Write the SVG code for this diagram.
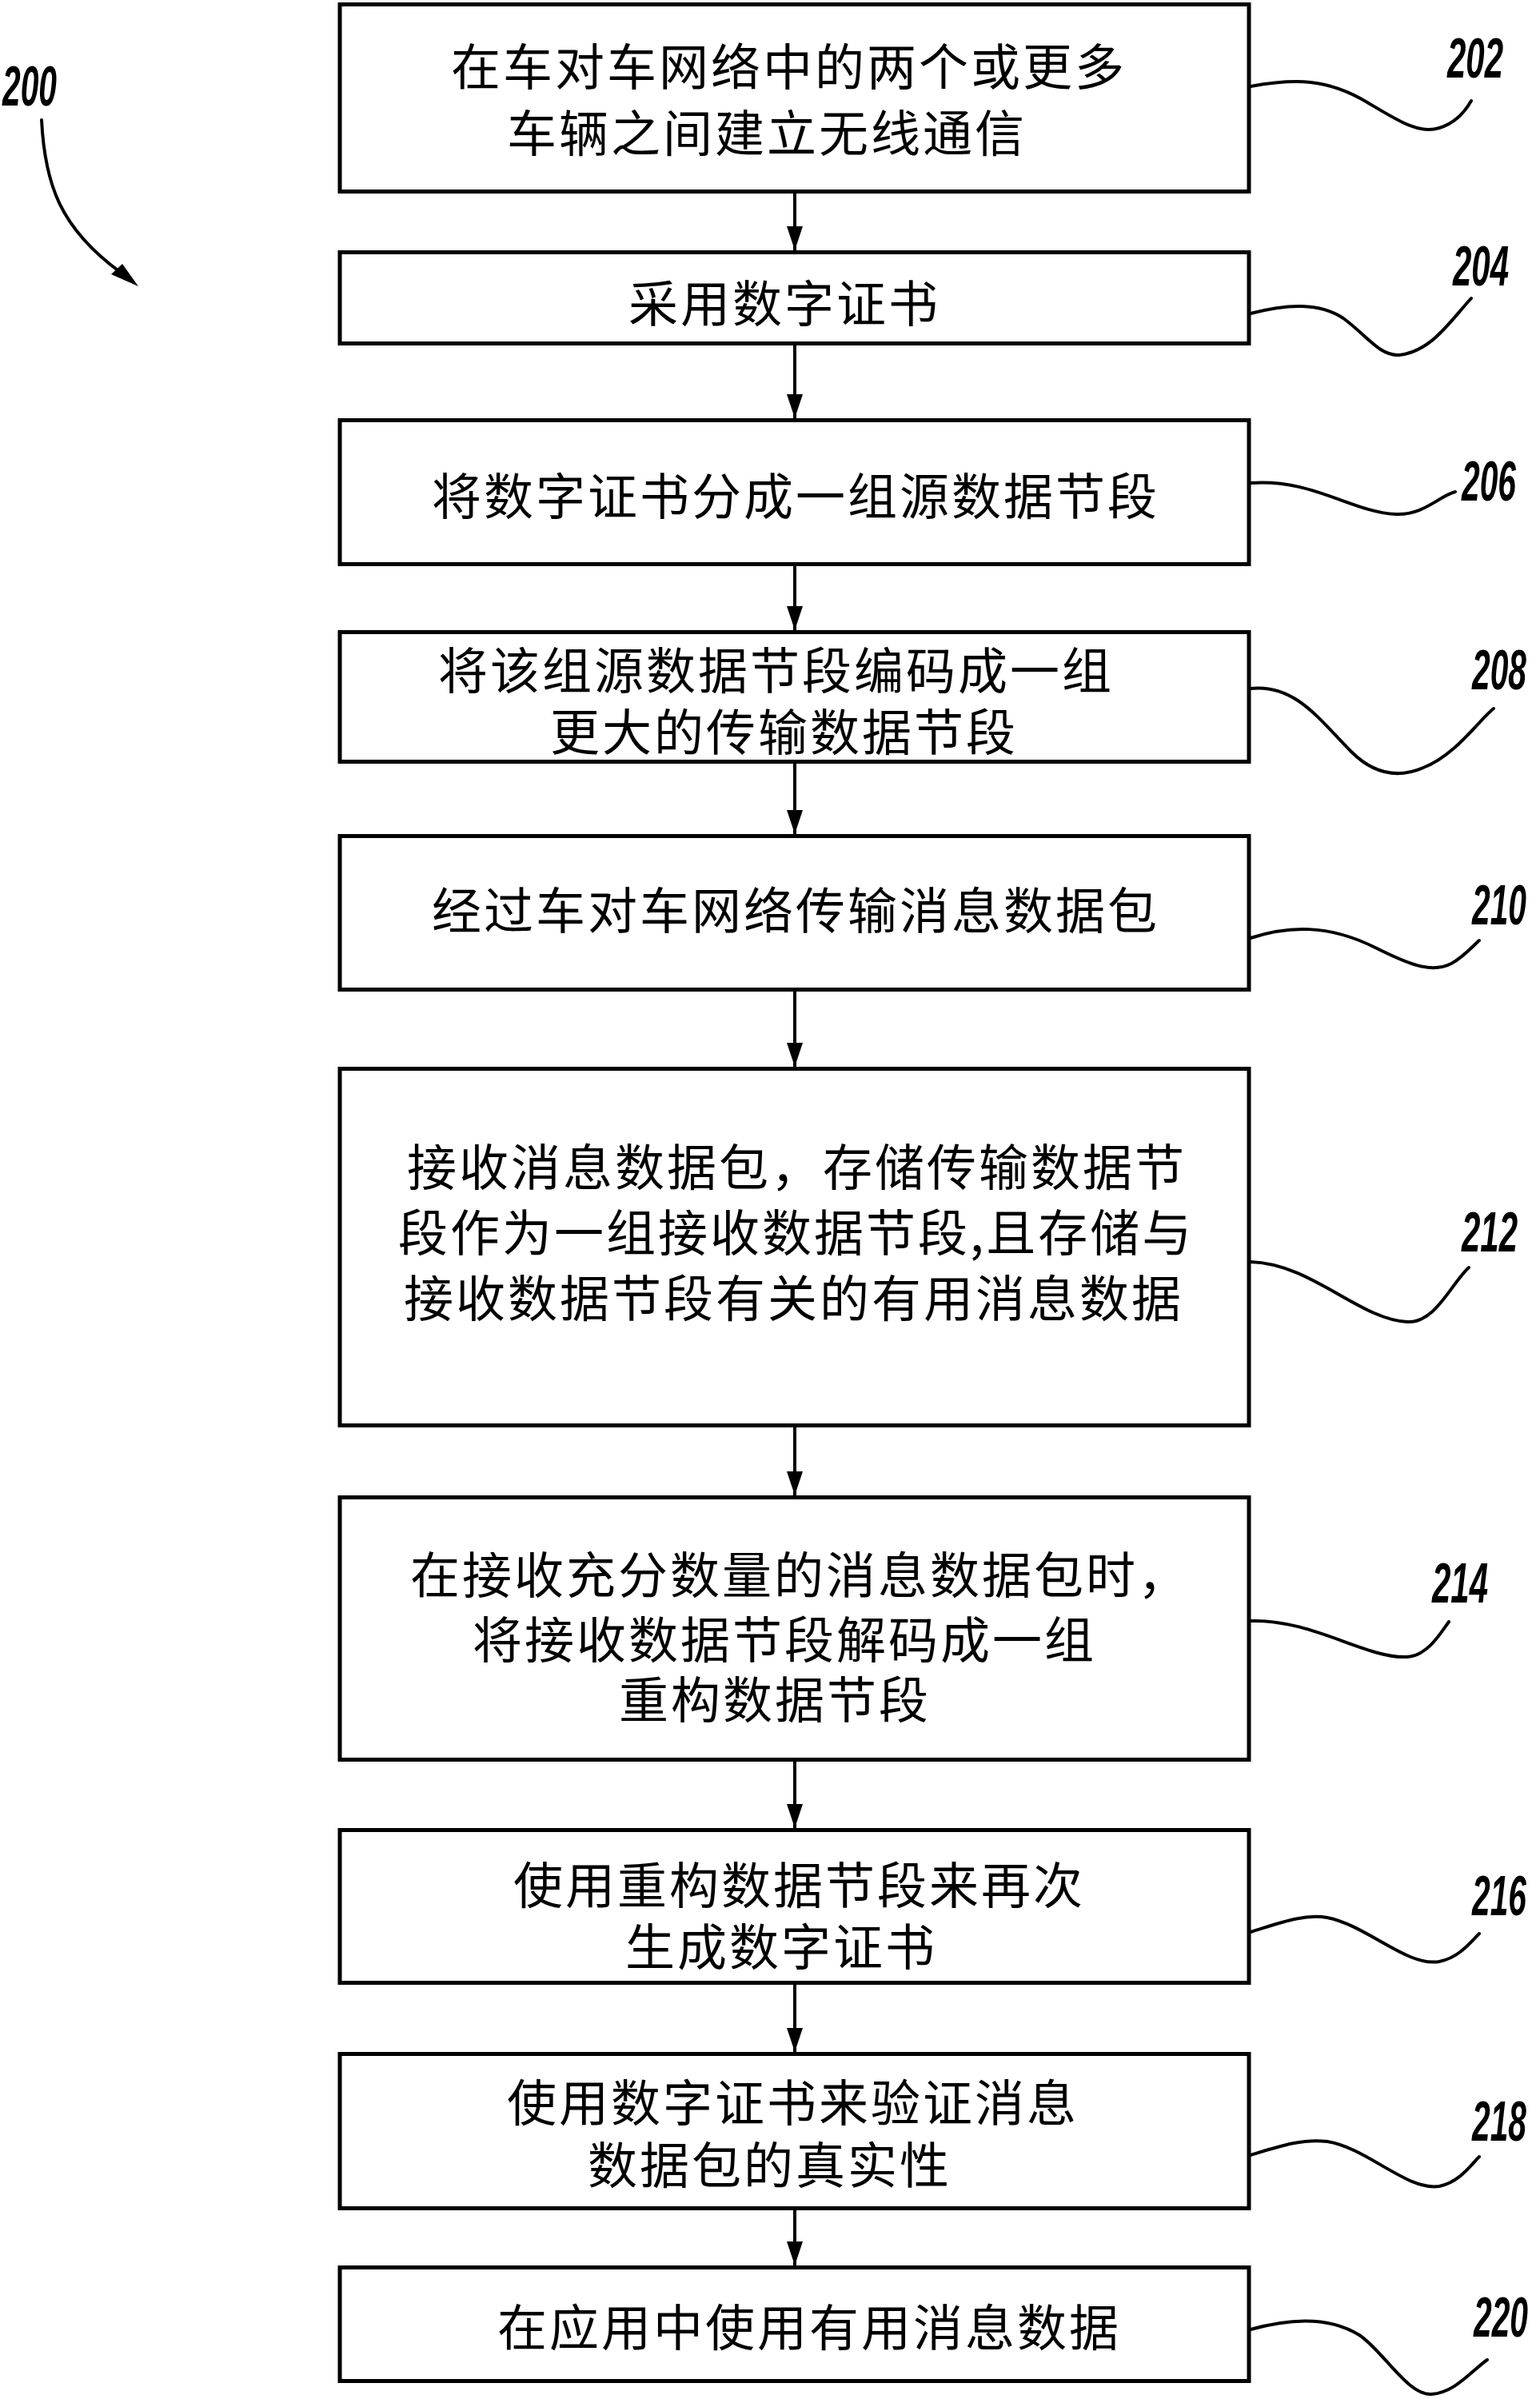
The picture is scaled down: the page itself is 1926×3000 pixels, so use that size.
<svg xmlns="http://www.w3.org/2000/svg" width="1926" height="3000" viewBox="0 0 1926 3000">
<style>
.box{fill:#fff;stroke:#000;stroke-width:5}
.t{font-family:"Noto Sans CJK SC","Noto Sans CJK JP",sans-serif;font-size:62px;letter-spacing:3px;fill:#000;dominant-baseline:central}
.lbl{font-family:"Liberation Sans",Arial,sans-serif;font-weight:bold;font-style:italic;font-size:70px;fill:#000}
.conn{stroke:#000;stroke-width:4;fill:none}
.lead{stroke:#000;stroke-width:4;fill:none;stroke-linecap:round}
</style>
<defs>
<marker id="ah" viewBox="0 0 30 20" refX="30" refY="10" markerWidth="30" markerHeight="20" markerUnits="userSpaceOnUse" orient="auto">
<path d="M0,0 L30,10 L0,20 z" fill="#000"/>
</marker>
</defs>
<rect width="1926" height="3000" fill="#fff"/>

<g id="ref200">
<text class="lbl" x="3" y="132" font-size="75" textLength="68" lengthAdjust="spacingAndGlyphs">200</text>
<path class="lead" d="M52,150 C56,230 75,285 150,340"/>
<polygon points="173,358 139,343 153,330" fill="#000"/>
</g>

<g id="connectors">
<line class="conn" x1="994" y1="242" x2="994" y2="313" marker-end="url(#ah)"/>
<line class="conn" x1="994" y1="432" x2="994" y2="523" marker-end="url(#ah)"/>
<line class="conn" x1="994" y1="708" x2="994" y2="788" marker-end="url(#ah)"/>
<line class="conn" x1="994" y1="955" x2="994" y2="1043" marker-end="url(#ah)"/>
<line class="conn" x1="994" y1="1240" x2="994" y2="1334" marker-end="url(#ah)"/>
<line class="conn" x1="994" y1="1785" x2="994" y2="1870" marker-end="url(#ah)"/>
<line class="conn" x1="994" y1="2203" x2="994" y2="2286" marker-end="url(#ah)"/>
<line class="conn" x1="994" y1="2482" x2="994" y2="2566" marker-end="url(#ah)"/>
<line class="conn" x1="994" y1="2764" x2="994" y2="2833" marker-end="url(#ah)"/>
</g>

<g id="n202">
<rect class="box" x="425" y="5.5" width="1137" height="234"/>
<text class="t" x="564" y="80">在车对车网络中的两个或更多</text>
<text class="t" x="634" y="163">车辆之间建立无线通信</text>
<path class="lead" d="M1564,108 C1620,98 1660,98 1710,128 C1750,152 1775,168 1800,160 C1820,154 1832,140 1840,126"/>
<text class="lbl" x="1810" y="97" textLength="70" lengthAdjust="spacingAndGlyphs">202</text>
</g>

<g id="n204">
<rect class="box" x="425" y="315.5" width="1137" height="114"/>
<text class="t" x="786" y="376">采用数字证书</text>
<path class="lead" d="M1564,392 C1610,380 1650,378 1680,398 C1710,420 1725,445 1750,444 C1790,440 1815,400 1840,373"/>
<text class="lbl" x="1817" y="357" textLength="70" lengthAdjust="spacingAndGlyphs">204</text>
</g>

<g id="n206">
<rect class="box" x="425" y="525.5" width="1137" height="180"/>
<text class="t" x="540" y="617">将数字证书分成一组源数据节段</text>
<path class="lead" d="M1564,604 C1640,598 1690,640 1745,643 C1780,645 1800,620 1820,615"/>
<text class="lbl" x="1828" y="626" textLength="68" lengthAdjust="spacingAndGlyphs">206</text>
</g>

<g id="n208">
<rect class="box" x="425" y="790.5" width="1137" height="162"/>
<text class="t" x="548" y="835">将该组源数据节段编码成一组</text>
<text class="t" x="688" y="912">更大的传输数据节段</text>
<path class="lead" d="M1564,861 C1620,855 1650,900 1690,940 C1715,965 1745,975 1780,960 C1820,945 1850,900 1868,886"/>
<text class="lbl" x="1841" y="862" textLength="68" lengthAdjust="spacingAndGlyphs">208</text>
</g>

<g id="n210">
<rect class="box" x="425" y="1045.5" width="1137" height="192"/>
<text class="t" x="540" y="1135">经过车对车网络传输消息数据包</text>
<path class="lead" d="M1564,1173 C1610,1158 1660,1155 1720,1185 C1760,1205 1790,1218 1815,1205 C1830,1197 1840,1185 1850,1176"/>
<text class="lbl" x="1841" y="1156" textLength="68" lengthAdjust="spacingAndGlyphs">210</text>
</g>

<g id="n212">
<rect class="box" x="425" y="1336.5" width="1137" height="446"/>
<text class="t" x="509" y="1456">接收消息数据包，存储传输数据节</text>
<text class="t" x="498" y="1538">段作为一组接收数据节段,且存储与</text>
<text class="t" x="505" y="1620">接收数据节段有关的有用消息数据</text>
<path class="lead" d="M1564,1578 C1640,1580 1700,1650 1760,1653 C1795,1655 1815,1605 1837,1585"/>
<text class="lbl" x="1828" y="1565" textLength="70" lengthAdjust="spacingAndGlyphs">212</text>
</g>

<g id="n214">
<rect class="box" x="425" y="1872.5" width="1137" height="328"/>
<text class="t" x="513" y="1966">在接收充分数量的消息数据包时，</text>
<text class="t" x="591" y="2047">将接收数据节段解码成一组</text>
<text class="t" x="774" y="2122">重构数据节段</text>
<path class="lead" d="M1564,2027 C1640,2024 1710,2075 1760,2072 C1785,2070 1800,2045 1812,2028"/>
<text class="lbl" x="1791" y="2004" textLength="70" lengthAdjust="spacingAndGlyphs">214</text>
</g>

<g id="n216">
<rect class="box" x="425" y="2288.5" width="1137" height="191"/>
<text class="t" x="642" y="2354">使用重构数据节段来再次</text>
<text class="t" x="782" y="2431">生成数字证书</text>
<path class="lead" d="M1564,2416 C1600,2405 1630,2393 1660,2398 C1710,2408 1760,2460 1800,2453 C1825,2448 1840,2428 1850,2418"/>
<text class="lbl" x="1841" y="2395" textLength="68" lengthAdjust="spacingAndGlyphs">216</text>
</g>

<g id="n218">
<rect class="box" x="425" y="2568.5" width="1137" height="193"/>
<text class="t" x="634" y="2626">使用数字证书来验证消息</text>
<text class="t" x="735" y="2704">数据包的真实性</text>
<path class="lead" d="M1564,2695 C1600,2684 1630,2674 1660,2678 C1710,2686 1760,2740 1800,2734 C1825,2729 1840,2707 1850,2697"/>
<text class="lbl" x="1841" y="2677" textLength="68" lengthAdjust="spacingAndGlyphs">218</text>
</g>

<g id="n220">
<rect class="box" x="425" y="2835.5" width="1137" height="142"/>
<text class="t" x="622" y="2907">在应用中使用有用消息数据</text>
<path class="lead" d="M1564,2913 C1610,2900 1660,2895 1700,2920 C1730,2940 1760,2995 1790,2994 C1820,2992 1840,2965 1860,2951"/>
<text class="lbl" x="1843" y="2922" textLength="68" lengthAdjust="spacingAndGlyphs">220</text>
</g>
</svg>
